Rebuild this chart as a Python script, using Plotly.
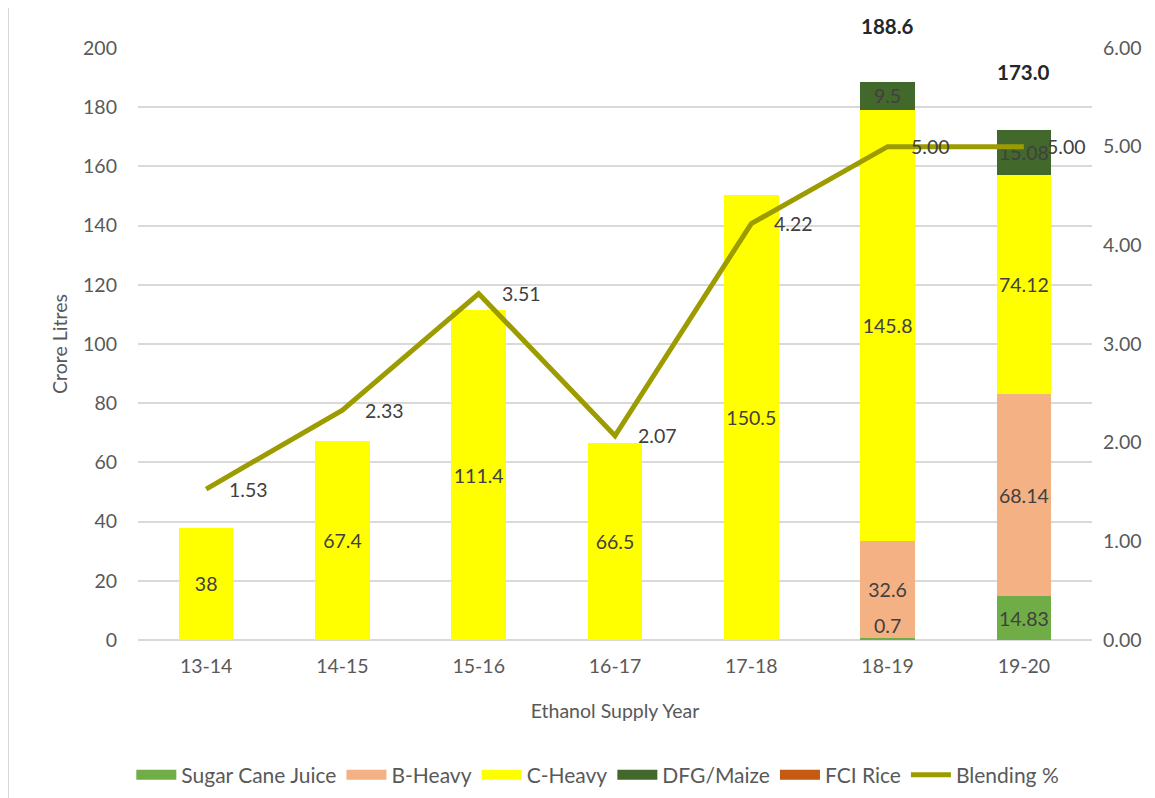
import plotly.graph_objects as go

years = ["13-14", "14-15", "15-16", "16-17", "17-18", "18-19", "19-20"]
sugar_cane = [0, 0, 0, 0, 0, 0.7, 14.83]
b_heavy = [0, 0, 0, 0, 0, 32.6, 68.14]
c_heavy = [38, 67.4, 111.4, 66.5, 150.5, 145.8, 74.12]
dfg_maize = [0, 0, 0, 0, 0, 9.5, 15.08]
fci_rice = [0, 0, 0, 0, 0, 0, 0]
blending = [1.53, 2.33, 3.51, 2.07, 4.22, 5.00, 5.00]
totals = [None, None, None, None, None, 188.6, 173.0]

FONT = "Lato"
TXT = "#404040"
AX = "#595959"
FS = 19.5

series = [
    ("Sugar Cane Juice", sugar_cane, "#70AD47"),
    ("B-Heavy", b_heavy, "#F4B183"),
    ("C-Heavy", c_heavy, "#FFFF00"),
    ("DFG/Maize", dfg_maize, "#43682B"),
    ("FCI Rice", fci_rice, "#C55A11"),
]

fig = go.Figure()
base = [0.0] * len(years)
small_labels = []
for name, vals, col in series:
    txt = []
    for i, v in enumerate(vals):
        if v >= 3:
            txt.append(f"{v:g}")
        else:
            txt.append("")
            if v > 0:
                small_labels.append((years[i], base[i] + v / 2, f"{v:g}"))
    fig.add_trace(go.Bar(
        x=years, y=vals, name=name, showlegend=False,
        marker=dict(color=col, line=dict(width=0)),
        text=txt, textposition="inside", insidetextanchor="middle",
        textangle=0, constraintext="none",
        textfont=dict(size=FS, color=TXT, family=FONT),
        width=0.4,
    ))
    base = [b + v for b, v in zip(base, vals)]

fig.add_trace(go.Scatter(
    x=years, y=blending, name="Blending %", mode="lines", yaxis="y2",
    line=dict(color="#9C9C00", width=5), showlegend=False,
))

# legend entries (wide swatches like the original)
for name, vals, col in series:
    fig.add_trace(go.Scatter(x=[None], y=[None], mode="lines", name=name,
                             line=dict(color=col, width=11)))
fig.add_trace(go.Scatter(x=[None], y=[None], mode="lines", name="Blending %",
                         line=dict(color="#9C9C00", width=5)))

for x, y, t in small_labels:
    fig.add_annotation(x=x, y=y, text=t, showarrow=False, yanchor="bottom",
                       font=dict(size=FS, color=TXT, family=FONT))

for x, v in zip(years, blending):
    fig.add_annotation(x=x, y=v, yref="y2", text=f"{v:.2f}", showarrow=False,
                       xanchor="left", xshift=21,
                       font=dict(size=FS, color=TXT, family=FONT))

for x, t in zip(years, totals):
    if t is not None:
        fig.add_annotation(x=x, y=t, text=f"<b>{t:.1f}</b>", showarrow=False,
                           yshift=56, font=dict(size=20.5, color="#262626", family=FONT))

fig.add_shape(type="line", xref="paper", yref="paper", x0=-0.136, x1=-0.136,
              y0=-0.3, y1=1.1, line=dict(color="#D9D9D9", width=1.5))

fig.update_layout(
    barmode="stack",
    width=1147, height=790,
    margin=dict(l=130, r=63, t=40, b=158, autoexpand=False),
    paper_bgcolor="white", plot_bgcolor="white",
    font=dict(family=FONT, size=FS, color=AX),
    xaxis=dict(showgrid=False, showline=False, ticks="", tickfont=dict(size=FS, color=AX),
               ticklabelstandoff=12,
               title=dict(text="Ethanol Supply Year", font=dict(size=FS, color=AX), standoff=28)),
    yaxis=dict(range=[0, 200], dtick=20, gridcolor="#D9D9D9", gridwidth=1.5, zeroline=True,
               zerolinecolor="#D9D9D9", zerolinewidth=1.5, showline=False, ticks="",
               tickfont=dict(size=FS, color=AX), ticklabelstandoff=20,
               title=dict(text="Crore Litres", font=dict(size=FS, color=AX), standoff=10)),
    yaxis2=dict(range=[0, 6], dtick=1, tickformat=".2f", overlaying="y", side="right",
                showgrid=False, zeroline=False, showline=False, ticks="",
                tickfont=dict(size=FS, color=AX), ticklabelstandoff=10),
    legend=dict(orientation="h", x=0.482, xanchor="center", y=-0.228, yanchor="middle",
                font=dict(size=21, color=AX), traceorder="normal", itemwidth=40,
                tracegroupgap=0),
)

fig.write_html("out.html")
